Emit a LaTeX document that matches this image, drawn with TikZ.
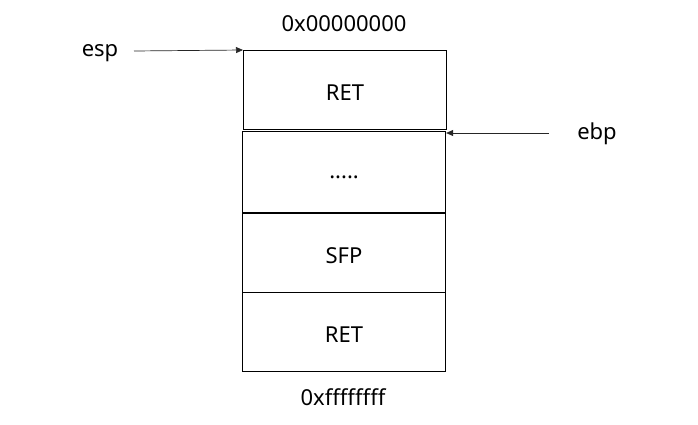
\documentclass[tikz,border=0pt]{standalone}
\usepackage{fontspec}
\setmainfont{Noto Sans}
\usetikzlibrary{arrows.meta}
\begin{document}
\begin{tikzpicture}[x=1pt,y=1pt,
  cell/.style={draw=black,line width=1.1pt,minimum width=203pt,inner sep=0pt,font=\fontsize{22}{26}\selectfont},
  lowtext/.style={text height=20pt,text depth=0pt},
  lbl/.style={font=\fontsize{22}{26}\selectfont,inner sep=0pt},
  ptr/.style={draw=black!85,line width=0.7pt,-{Triangle[length=7pt,width=6pt]}}]
\useasboundingbox (0,0) rectangle (698,424);
\node[cell,lowtext,minimum height=79pt,anchor=north west] (b1) at (243,374) {RET};
\node[cell,minimum height=81pt,anchor=north west,text height=12pt,text depth=0pt] (b2) at (242,293) {.....};
\node[cell,lowtext,minimum height=79pt,anchor=north west] (b3) at (242,211) {SFP};
\node[cell,lowtext,minimum height=79pt,anchor=north west] (b4) at (242,132) {RET};
\node[lbl] (top) at (344,400) {0x00000000};
\node[lbl] (bot) at (343,27) {0xffffffff};
\node[lbl] (esp) at (100,371) {esp};
\node[lbl] (ebp) at (597,290) {ebp};
\coordinate (espstart) at (134,373);
\coordinate (ebpstart) at (549,291);
\draw[ptr] (espstart) -- (b1.north west);
\draw[ptr] (ebpstart) -- (ebpstart -| b2.east);
\end{tikzpicture}
\end{document}
